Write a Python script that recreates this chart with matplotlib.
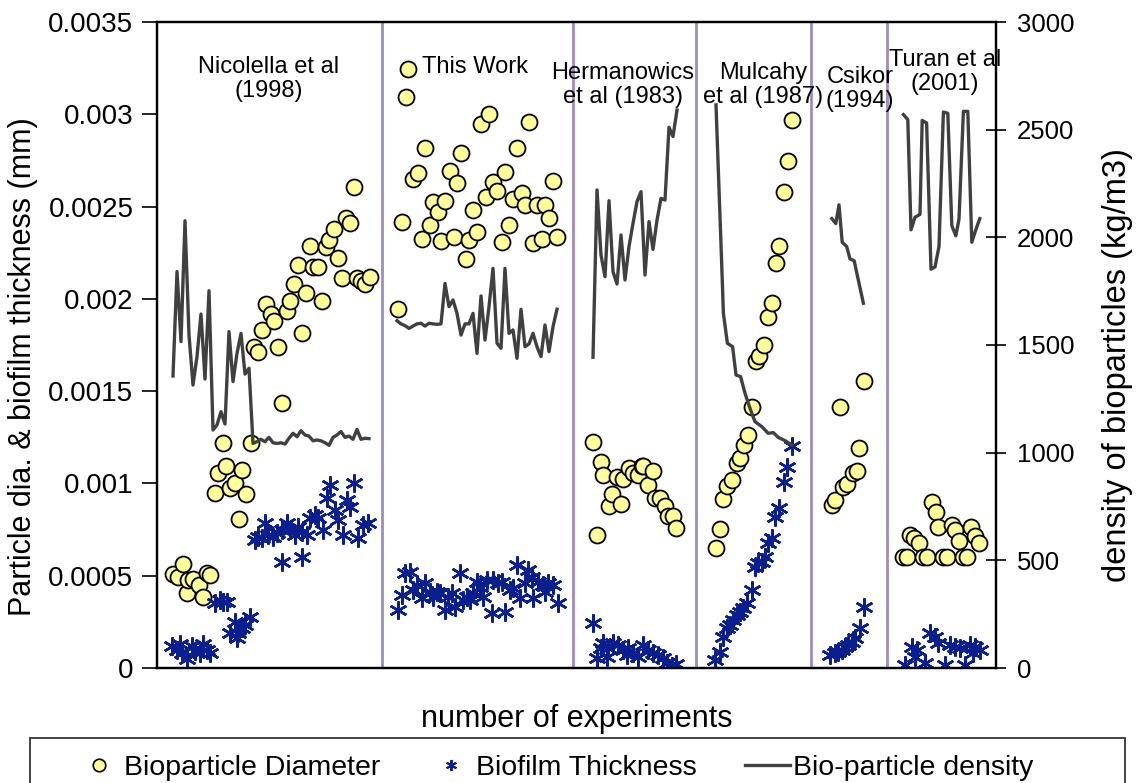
import matplotlib
matplotlib.use("Agg")
import matplotlib.pyplot as plt
from matplotlib.lines import Line2D
from matplotlib.patches import Rectangle
from matplotlib.ticker import FuncFormatter

plt.rcParams['font.family'] = ['Liberation Sans', 'DejaVu Sans']

# experiment number (x) and bioparticle diameter (mm)
diam_x = [4.1, 5.3, 6.6, 7.4, 7.8, 9.1, 10.5, 11.6, 12.4, 13.25,
          14.5, 15.3, 16.6, 17.2, 18.25, 19.5, 20.5, 21.3, 22.2, 23.4,
          24.25, 25.2, 26.2, 27.25, 28.5, 29.25, 30.2, 31.2, 32.4, 33.25, 34.3, 35.3, 36.2,
          37.25, 38.25, 39.1, 40.3, 41.2, 42.2, 43.1, 44.25, 45.2, 46.3, 47.25, 48.25,
          49.25, 50.1, 51, 52, 53.25,
          # this work
          60.3, 61.2, 62.25, 62.75, 64.1, 65.3, 66.2, 67, 68.25, 69.1, 70.3, 71, 72, 73.25,
          74.25, 75.1, 76, 77.25, 78.1, 79.1, 80.1, 81, 82.25, 83, 84.1, 85, 86.2, 87, 88.1,
          89, 90, 91.2, 92, 93, 94, 95, 96.2, 97, 98.1, 99, 100.1,
          # Hermanowics
          108.9, 110.1, 110.9, 111.6, 113.1, 113.7, 114.9, 115.9, 116.6, 118.1, 119.1, 120.3,
          121.2, 121.6, 122.8, 124.1, 124.5, 125.75, 127, 127.8, 128.9, 129.75,
          # Mulcahy
          139.75, 140.75, 141.6, 142.6, 143.7, 144.9, 145.75, 146.75, 147.8, 148.7, 149.75,
          150.6, 151.75, 152.8, 153.7, 154.75, 155.6, 156.75, 157.8, 158.7,
          # Csikor
          168.7, 169.5, 170.75, 171.6, 172.6, 173.9, 174.9, 175.5, 176.75,
          # Turan
          186.6, 187.4, 188.25, 189.25, 190.6, 191.6, 192.6, 193.7, 194.75, 195.3, 196.6,
          197.6, 198.7, 199.5, 200.6, 201.4, 202.4, 203.5, 204.5, 205.6]
diam_y = [0.000509, 0.000491, 0.000563, 0.000408, 0.000477, 0.00048, 0.00045, 0.000386, 0.000516, 0.000504,
          0.000946, 0.001055, 0.001217, 0.001094, 0.000973, 0.001004, 0.000809, 0.001073, 0.000943, 0.001221,
          0.001741, 0.001714, 0.001831, 0.001972, 0.001916, 0.001882, 0.001741, 0.001434, 0.001934, 0.001988,
          0.00208, 0.002183, 0.001813, 0.002033, 0.002286, 0.002174, 0.002174, 0.00199, 0.002283, 0.002319,
          0.002378, 0.002223, 0.002115, 0.002436, 0.002413, 0.002608, 0.002115, 0.002098, 0.002079, 0.00212,
          0.001943, 0.002418, 0.003092, 0.003244, 0.002648, 0.00268, 0.002323, 0.002816, 0.0024, 0.002527,
          0.002472, 0.002315, 0.002532, 0.002695, 0.002337, 0.00263, 0.002789, 0.002214, 0.002319, 0.002481,
          0.002364, 0.002947, 0.00255, 0.003002, 0.002635, 0.002586, 0.00231, 0.002689, 0.0024,
          0.002539, 0.002819, 0.002575, 0.002509, 0.00296, 0.002301, 0.002509, 0.002323, 0.002509, 0.00244,
          0.00264, 0.002337,
          0.001227, 0.00072, 0.001114, 0.001047, 0.000878, 0.000945, 0.001036, 0.000889, 0.001024, 0.001081,
          0.001058, 0.001047, 0.001092, 0.001092, 0.00099, 0.00107, 0.000923, 0.000923, 0.000878, 0.000822,
          0.000822, 0.000761,
          0.000652, 0.000751, 0.000914, 0.000986, 0.001019, 0.001112, 0.001136, 0.001208, 0.001262, 0.001416,
          0.001665, 0.00169, 0.00175, 0.001904, 0.001979, 0.002196, 0.002288, 0.002581, 0.002749, 0.002969,
          0.000883, 0.00091, 0.001416, 0.000979, 0.000997, 0.001058, 0.001069, 0.00119, 0.001557,
          0.000603, 0.000603, 0.000721, 0.000703, 0.000676, 0.000603, 0.000603, 0.000901, 0.000847, 0.000766,
          0.000603, 0.000603, 0.000775, 0.000748, 0.00069, 0.000603, 0.000603, 0.000766, 0.000715, 0.000676]

# biofilm thickness (mm)
thick_x = [3.7, 4.9, 5.75, 6.2, 7.4, 8.7, 9.5, 10.75, 11.6, 12.4, 13.25,
           14.5, 15.75, 16.6, 17.4, 18.25, 19.5, 19.9, 20.3, 21.2, 22, 23.25,
           24.5, 25.3, 26.2, 27, 27.8, 29.1, 29.9, 31.2, 31.2, 32.4, 33.25, 34.5, 35.3, 36.2, 36.2,
           37.4, 38.25, 39.5, 40.3, 41.6, 42.4, 43.25, 44.5, 45.3, 46.6, 47.4, 48.25, 49.3,
           50.3, 51.6, 52.8,
           60.3, 61.2, 62, 63.25, 64.1, 65, 66.2, 67, 68.25, 69.1, 70, 70.75, 72, 72.8, 73.7,
           74.5, 75.75, 76.6, 77.4, 78.25, 79.1, 79.9, 80.75, 81.6, 82.4, 83.7, 84.1, 85.3,
           86.2, 87, 88.25, 89.1, 89.9, 90.75, 92, 92.8, 93.7, 94.1, 95.3, 96.6, 97, 97.8,
           99.1, 100.3,
           109.1, 110, 111, 111.6, 112.4, 112.8, 114.1, 115.3, 116.6, 117.4, 117.8, 119.1,
           120.3, 121.6, 122.8, 124.1, 125.3, 126.6, 127.6, 128.7, 129.75,
           139.5, 140.75, 141.6, 142.4, 143.25, 144.1, 144.9, 145.75, 146.6, 147.4, 148.7,
           149.5, 150.3, 151.2, 152, 152.8, 153.7, 154.5, 155.6, 156.75, 157.6, 158.8,
           168.25, 169.5, 170.3, 171.2, 172, 172.8, 173.7, 174.5, 175.75, 176.75,
           187, 188.7, 189.5, 189.9, 192, 193.25, 194.5, 195.3, 197, 198.25, 199.5, 200.75,
           202, 203.25, 204.1, 204.5, 205.75]
thick_y = [0.000119, 0.0000975, 0.00013, 0.0000795, 0.000047, 0.000119, 0.000092, 0.00008, 0.00013,
           0.0000975, 0.00008,
           0.00035, 0.000368, 0.000359, 0.000359, 0.000188, 0.000251, 0.000161, 0.000188, 0.000215,
           0.000233, 0.000278,
           0.000694, 0.000711, 0.000703, 0.000784, 0.00072, 0.000711, 0.00073, 0.000748, 0.000576,
           0.000784, 0.000748, 0.00072, 0.000766, 0.000739, 0.000603, 0.00072, 0.000811, 0.000829,
           0.000811, 0.000748, 0.000919, 0.000991, 0.000856, 0.0008, 0.00072, 0.00091, 0.000874,
           0.001, 0.000703, 0.000775, 0.000784,
           0.000314, 0.000396, 0.000513, 0.000522, 0.000423, 0.00045, 0.000377, 0.000459, 0.000414,
           0.000387, 0.000414, 0.000405, 0.000314, 0.000387, 0.000405, 0.000332, 0.000513, 0.000368,
           0.000387, 0.000368, 0.000405, 0.000468, 0.000441, 0.000387, 0.000477, 0.000296, 0.000477,
           0.000459, 0.000468, 0.000305, 0.000423, 0.000432, 0.000558, 0.000377, 0.000459, 0.000531,
           0.000495, 0.000377, 0.000468, 0.00045, 0.000414, 0.000459, 0.00045, 0.00035,
           0.000242, 0.000052, 0.000107, 0.000134, 0.000061, 0.000107, 0.000134, 0.000125, 0.000098,
           0.00007, 0.000107, 0.00008, 0.000061, 0.000125, 0.000098, 0.00008, 0.00007, 0.000052,
           0.000025, 0.000011, 0.00002,
           0.000043, 0.000088, 0.00017, 0.000215, 0.000233, 0.00026, 0.000287, 0.000305, 0.000323,
           0.00035, 0.000423, 0.000549, 0.000567, 0.000576, 0.000603, 0.000676, 0.000703, 0.00082,
           0.000865, 0.001009, 0.001087, 0.001203,
           0.00007, 0.00008, 0.000088, 0.000098, 0.000116, 0.000125, 0.000143, 0.000161, 0.000215,
           0.000332,
           0.000016, 0.000116, 0.000061, 0.000098, 0.000025, 0.000188, 0.00017, 0.000134, 0.000016,
           0.000125, 0.000116, 0.000107, 0.000016, 0.000125, 0.00008, 0.000116, 0.000098]

# bio-particle density (kg/m3), one line per study
nic_rho_x = list(range(4, 54))
nic_rho = [1356, 1841, 1516, 2077, 1547, 1314, 1446, 1644, 1342, 1752, 1105, 1129, 1190, 1133,
           1562, 1330, 1461, 1554, 1365, 1392, 1043, 1051, 1062, 1051, 1071, 1046, 1043, 1046,
           1040, 1067, 1090, 1074, 1102, 1082, 1077, 1055, 1059, 1055, 1046, 1034, 1071, 1082,
           1098, 1071, 1077, 1062, 1108, 1062, 1067, 1065]
tw_rho_x = list(range(60, 101))
tw_rho = [1613, 1598, 1590, 1577, 1588, 1598, 1601, 1588, 1601, 1598, 1596, 1598, 1786, 1678,
          1709, 1647, 1546, 1598, 1598, 1647, 1461, 1728, 1523, 1678, 1856, 1508, 1485, 1856,
          1554, 1570, 1438, 1666, 1492, 1505, 1554, 1492, 1446, 1593, 1469, 1585, 1666]
her_rho_x = list(range(109, 131))
her_rho = [1443, 2220, 1918, 1817, 2170, 1841, 1783, 2011, 1802, 1957, 2065, 2166, 2212, 1825,
           2073, 1944, 2080, 2181, 2173, 2511, 2468, 2591]
mul_rho_x = [139.75, 140.3, 140.75, 141.2, 141.6, 142.6, 143.9, 144.75, 145.9, 147, 148.25,
             149.5, 151.2, 152.8, 154.1, 155.3, 157, 158.7]
mul_rho = [2615, 2328, 2096, 1864, 1647, 1508, 1492, 1361, 1353, 1276, 1206, 1144, 1121, 1090,
           1093, 1071, 1056, 1036]
csi_rho_x = [168.7, 169.7, 170.5, 171.3, 172.4, 173.25, 174.3, 175.3, 176.6]
csi_rho = [2087, 2064, 2151, 1977, 1958, 1900, 1891, 1804, 1694]
tur_rho_x = [186.6, 187.7, 188.5, 189.5, 190.75, 191.3, 192.4, 193.5, 194.5, 195.5, 196.6,
             197.7, 198.7, 199.7, 200.5, 201.6, 202.7, 203.7, 204.7, 205.7]
tur_rho = [2570, 2547, 2035, 2093, 2107, 2543, 2531, 1852, 1862, 1958, 2582, 2576, 2055, 2007,
           2084, 2585, 2585, 1977, 2035, 2087]

dividers = [56.25, 104, 134.75, 163.5, 182.5]
studies = ["Nicolella et al\n(1998)", "This Work", "Hermanowics\net al (1983)",
           "Mulcahy\net al (1987)", "Csikor\n(1994)", "Turan et al\n(2001)"]
study_x = [27.9, 66.2, 116.5, 151.5, 175.8, 197.0]
study_ha = ["center", "left", "center", "center", "center", "center"]
study_y = [0.947, 0.947, 0.938, 0.938, 0.932, 0.958]

yellow = "#FFFF99"
navy = "#0B1E8E"
grey = "#404040"
purple = "#9D8BC5"
star = (6, 2, 0)

fig = plt.figure(figsize=(11.42, 7.83), dpi=100)
ax = fig.add_axes([157 / 1142, 115 / 783, 839 / 1142, 646 / 783])
ax2 = ax.twinx()

for d in dividers:
    ax.axvline(d, color=purple, lw=2, zorder=1)

ax.plot(diam_x, diam_y, ls="none", marker="o", ms=11.5, mfc=yellow, mec="black", mew=1.3, zorder=3)
ax.plot(thick_x, thick_y, ls="none", marker=star, ms=13, mec=navy, mew=1.8, zorder=3)

for xs, ys in [(nic_rho_x, nic_rho), (tw_rho_x, tw_rho), (her_rho_x, her_rho),
               (mul_rho_x, mul_rho), (csi_rho_x, csi_rho), (tur_rho_x, tur_rho)]:
    ax2.plot(xs, ys, color=grey, lw=2.4)

ax.set_xlim(0, 209.75)
ax.set_ylim(0, 0.0035)
ax2.set_ylim(0, 3000)
ax.set_xticks([])
ax.set_yticks([i * 0.0005 for i in range(8)])
ax.yaxis.set_major_formatter(FuncFormatter(lambda v, p: "%g" % round(v, 6)))
ax2.set_yticks(range(0, 3001, 500))

ax.tick_params(axis="y", labelsize=20, direction="out", length=11, width=1.2, pad=6)
ax2.tick_params(axis="y", labelsize=18.5, direction="inout", length=14, width=1.2, pad=8)
for a in (ax, ax2):
    for s in a.spines.values():
        s.set_linewidth(1.6)
        s.set_color("black")

ax.set_ylabel("Particle dia. & biofilm thickness (mm)", fontsize=22)
ax2.set_ylabel("density of bioparticles (kg/m3)", fontsize=23.5)
ax.yaxis.set_label_coords(-0.142, 0.466)
ax2.yaxis.set_label_coords(1.126, 0.469)
ax.set_xlabel("number of experiments", fontsize=22, labelpad=26)

for label, x, ha, y in zip(studies, study_x, study_ha, study_y):
    ax.text(x, y, label, transform=ax.get_xaxis_transform(), ha=ha, va="top",
            fontsize=17, linespacing=1.1)

handles = [Line2D([], [], ls="none", marker="o", ms=9, mfc=yellow, mec="black", mew=1.2),
           Line2D([], [], ls="none", marker=star, ms=8, mec=navy, mew=1.4),
           Line2D([], [], color=grey, lw=2.4)]
leg = fig.legend(handles, ["Bioparticle Diameter", "Biofilm Thickness", "Bio-particle density"],
                 loc="center left", bbox_to_anchor=(77 / 1142, 15 / 783),
                 ncol=3, fontsize=20.5, frameon=False, borderpad=0, handlelength=1.58,
                 handletextpad=0.08, columnspacing=1.7, borderaxespad=0)
fig.patches.append(Rectangle((30 / 1142, -0.05), 1095 / 1142, 45 / 783 + 0.05,
                             transform=fig.transFigure, fill=False, edgecolor="#333333", lw=1.3))

fig.savefig("out.png", dpi=100)
